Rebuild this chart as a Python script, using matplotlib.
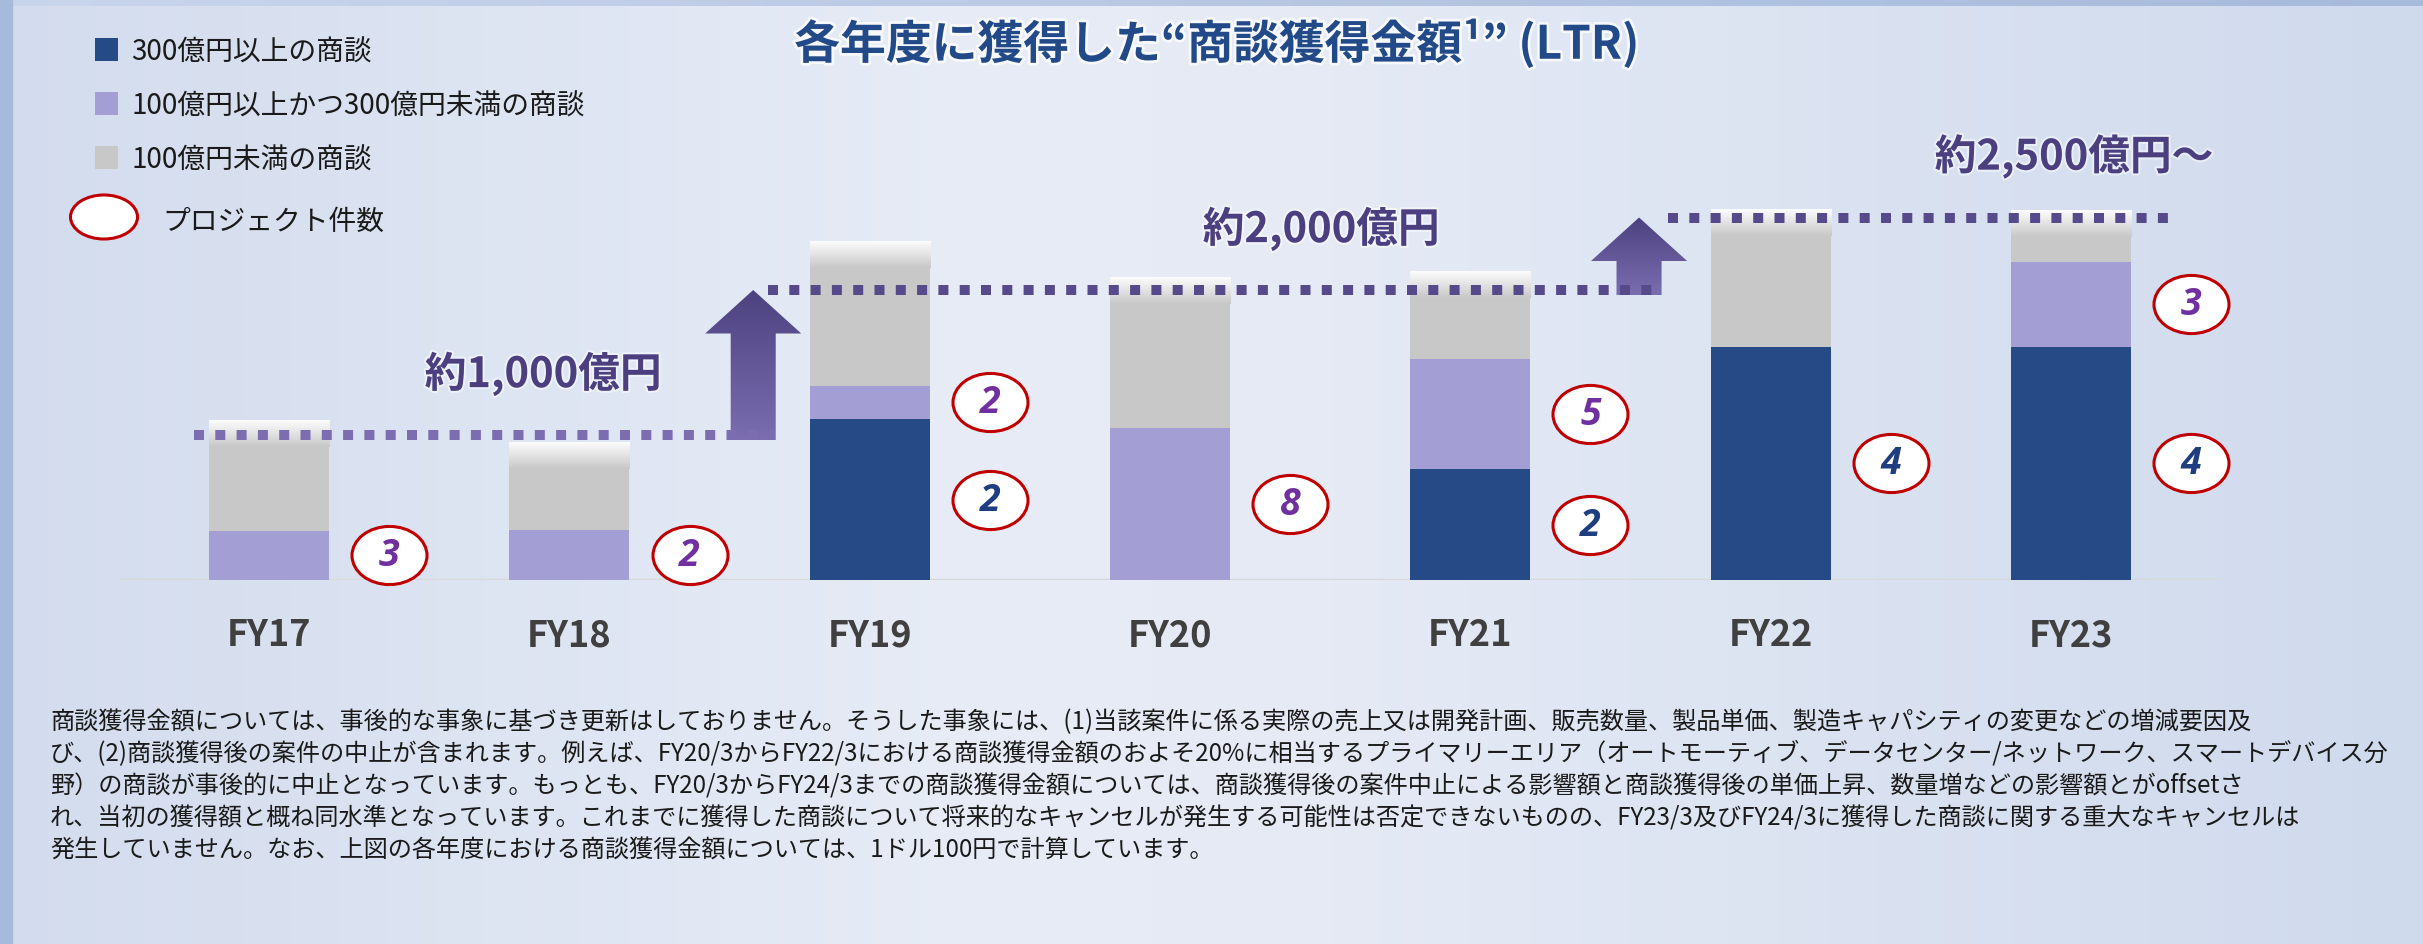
import numpy as np
import matplotlib
matplotlib.use("Agg")
import matplotlib.pyplot as plt
from matplotlib.patches import Rectangle, Ellipse, Polygon
from matplotlib.path import Path
from matplotlib.transforms import Affine2D
import matplotlib.patheffects as pe

# ---------------- data ----------------
years = ["FY17", "FY18", "FY19", "FY20", "FY21", "FY22", "FY23"]
val_300plus = [0, 0, 1110, 0, 765, 1610, 1610]          # 億円, 300億円以上の商談
val_100_300 = [340, 345, 230, 1050, 760, 0, 585]        # 100億円以上かつ300億円未満
val_under100 = [760, 600, 990, 1030, 600, 940, 350]     # 100億円未満
cnt_300plus = [0, 0, 2, 0, 2, 4, 4]                     # プロジェクト件数
cnt_100_300 = [3, 2, 2, 8, 5, 0, 3]
levels = [1000, 2000, 2500]
level_labels = ["約1,000億円", "約2,000億円", "約2,500億円～"]
legend_labels = ["300億円以上の商談", "100億円以上かつ300億円未満の商談", "100億円未満の商談", "プロジェクト件数"]
title = "各年度に獲得した“商談獲得金額¹” (LTR)"
footnote = [
    "商談獲得金額については、事後的な事象に基づき更新はしておりません。そうした事象には、(1)当該案件に係る実際の売上又は開発計画、販売数量、製品単価、製造キャパシティの変更などの増減要因及",
    "び、(2)商談獲得後の案件の中止が含まれます。例えば、FY20/3からFY22/3における商談獲得金額のおよそ20%に相当するプライマリーエリア（オートモーティブ、データセンター/ネットワーク、スマートデバイス分",
    "野）の商談が事後的に中止となっています。もっとも、FY20/3からFY24/3までの商談獲得金額については、商談獲得後の案件中止による影響額と商談獲得後の単価上昇、数量増などの影響額とがoffsetさ",
    "れ、当初の獲得額と概ね同水準となっています。これまでに獲得した商談について将来的なキャンセルが発生する可能性は否定できないものの、FY23/3及びFY24/3に獲得した商談に関する重大なキャンセルは",
    "発生していません。なお、上図の各年度における商談獲得金額については、1ドル100円で計算しています。",
]

# ---------------- style ----------------
JP = ["Noto Sans CJK JP", "DejaVu Sans"]
NUMF = ["Open Sans", "DejaVu Sans"]
NAVY = "#264a85"
PURPLE = "#a39fd4"
GRAY = "#c8c8c8"
LINE_COLORS = ["#7b6db0", "#564a8a", "#564a8a"]
LABEL_COLOR = "#4b3f80"
W, H = 2423, 945

fig = plt.figure(figsize=(W / 100, H / 100), dpi=100)

# background
bg = fig.add_axes([0, 0, 1, 1])
bg.set_axis_off()
xs = np.linspace(0, 1, 800)
stops = [0.0, 0.4, 0.55, 1.0]
cols = np.array([[211, 220, 238], [231, 236, 246], [229, 234, 245], [207, 218, 237]]) / 255
grad = np.stack([np.interp(xs, stops, cols[:, k]) for k in range(3)], axis=-1)
bg.imshow(np.tile(grad[None], (20, 1, 1)), extent=[0, 1, 0, 1], aspect="auto", zorder=0)
tcols = np.array([[201, 213, 235], [166, 186, 220]]) / 255
tgrad = np.stack([np.interp(xs, [0, 1], tcols[:, k]) for k in range(3)], axis=-1)
bg.imshow(np.tile(tgrad[None], (2, 1, 1)), extent=[0, 1, 1 - 7 / H, 1], aspect="auto", zorder=1)
bg.add_patch(Rectangle((0, 0), 12 / W, 1, color="#a6badc", zorder=2))
bg.set_xlim(0, 1)
bg.set_ylim(0, 1)

# main axes
ax = fig.add_axes([119 / W, 1 - 581 / H, 2102 / W, 435 / H])
ax.patch.set_alpha(0)
for s in ax.spines.values():
    s.set_visible(False)

x = np.arange(len(years))
n300 = np.array(val_300plus, float)
n100 = np.array(val_100_300, float)
nlow = np.array(val_under100, float)
bw = 0.4
ax.bar(x, n300, bw, color=NAVY, zorder=2)
ax.bar(x, n100, bw, bottom=n300, color=PURPLE, zorder=2)
ax.bar(x, nlow, bw, bottom=n300 + n100, color=GRAY, zorder=2)
tot = n300 + n100 + nlow

# white fade at top of each bar
fade = 180
g = np.linspace(0, 1, 60)
fade_img = np.stack([0.99 - (0.99 - 0.784) * g] * 3, axis=-1)[:, None, :]
for xi, t in zip(x, tot):
    ax.imshow(fade_img, extent=[xi - bw / 2, xi + bw / 2, t - fade, t], aspect="auto", zorder=3)

ax.axhline(0, color="#d9d9d9", lw=2.5, zorder=1)

# dotted level lines
spans = [(-0.25, 1.685), (1.66, 4.62), (4.66, 6.33)]
for lv, (a, b), c in zip(levels, spans, LINE_COLORS):
    ax.plot([a, b], [lv, lv], color=c, lw=7.2, linestyle=(0, (1.0, 1.13)),
            solid_capstyle="butt", dash_capstyle="butt", zorder=6)

# arrows
arrow_x = [1.612, 4.562]
sw, hw, hl = 0.075, 0.16, 300
ag = np.linspace(0, 1, 80)
top_c = np.array([77, 66, 128]) / 255
bot_c = np.array([122, 109, 176]) / 255
arrow_img = (top_c[None, :] * (1 - ag[:, None]) + bot_c[None, :] * ag[:, None])[:, None, :]
for i, cx in enumerate(arrow_x):
    b = levels[i] - 35
    t = levels[i + 1]
    hb = t - hl
    verts = [(cx - sw, b), (cx + sw, b), (cx + sw, hb), (cx + hw, hb), (cx, t),
             (cx - hw, hb), (cx - sw, hb)]
    poly = Polygon(verts, closed=True, facecolor="none", edgecolor="none", zorder=5)
    ax.add_patch(poly)
    im = ax.imshow(arrow_img, extent=[cx - hw, cx + hw, b, t], aspect="auto", zorder=5)
    im.set_clip_path(poly)

# level labels
label_x = [0.912, 3.503, 6.01]
for lx, lv, txt in zip(label_x, levels, level_labels):
    ax.text(lx, lv + 420, txt, ha="center", va="center", fontsize=30, fontweight="bold",
            color=LABEL_COLOR, family=JP, zorder=7,
            path_effects=[pe.withStroke(linewidth=3, foreground="white", alpha=0.5)])

# project-count ellipses
ell = Path.unit_circle().transformed(Affine2D().scale(1.29, 1.0))
off = 0.40
for cnts, bottoms, heights, tc in [(cnt_300plus, np.zeros_like(n300), n300, "#1f3e80"),
                                   (cnt_100_300, n300, n100, "#7030a0")]:
    for xi, c, b0, h in zip(x, cnts, bottoms, heights):
        if c > 0:
            yc = b0 + h / 2
            ax.scatter([xi + off], [yc], marker=ell, s=2916, facecolor="white",
                       edgecolor="#c00000", linewidth=2.2, zorder=7, clip_on=False)
            ax.text(xi + off, yc, str(c), ha="center", va="center", fontsize=27,
                    fontweight="bold", style="italic", color=tc, family=NUMF, zorder=8)

ax.set_xlim(-0.5, 6.5)
ax.set_ylim(0, 3000)
ax.set_yticks([])
ax.set_xticks(x)
ax.set_xticklabels(years, fontsize=26, fontweight="bold", color="#404040", family=JP)
ax.tick_params(axis="x", length=0, pad=26)

# title
fig.text(1217 / W, 1 - 45 / H, title, ha="center", va="center", fontsize=33, fontweight="bold",
         color="#234a88", family=JP,
         path_effects=[pe.withStroke(linewidth=4, foreground="white", alpha=0.7)])

# legend (manual)
leg_colors = [NAVY, PURPLE, GRAY]
leg_y = [50.5, 104.5, 158.5]
for c, yy, lab in zip(leg_colors, leg_y, legend_labels[:3]):
    fig.patches.append(Rectangle((95 / W, 1 - (yy + 11.5) / H), 23 / W, 23 / H,
                                 transform=fig.transFigure, facecolor=c, edgecolor="none"))
    fig.text(131 / W, 1 - (yy + 2) / H, lab, ha="left", va="center", fontsize=20, color="#1a1a1a", family=JP)
fig.patches.append(Ellipse((104 / W, 1 - 218 / H), 67 / W, 44 / H, transform=fig.transFigure,
                           facecolor="white", edgecolor="#c00000", linewidth=2.2))
fig.text(162 / W, 1 - 222 / H, legend_labels[3], ha="left", va="center", fontsize=20,
         color="#1a1a1a", family=JP)

# footnote
foot_y = [722, 754, 787, 819, 851]
for yy, line in zip(foot_y, footnote):
    fig.text(50 / W, 1 - yy / H, line, ha="left", va="center", fontsize=17.4, color="#1a1a1a", family=JP)

fig.savefig("out.png", dpi=100)
